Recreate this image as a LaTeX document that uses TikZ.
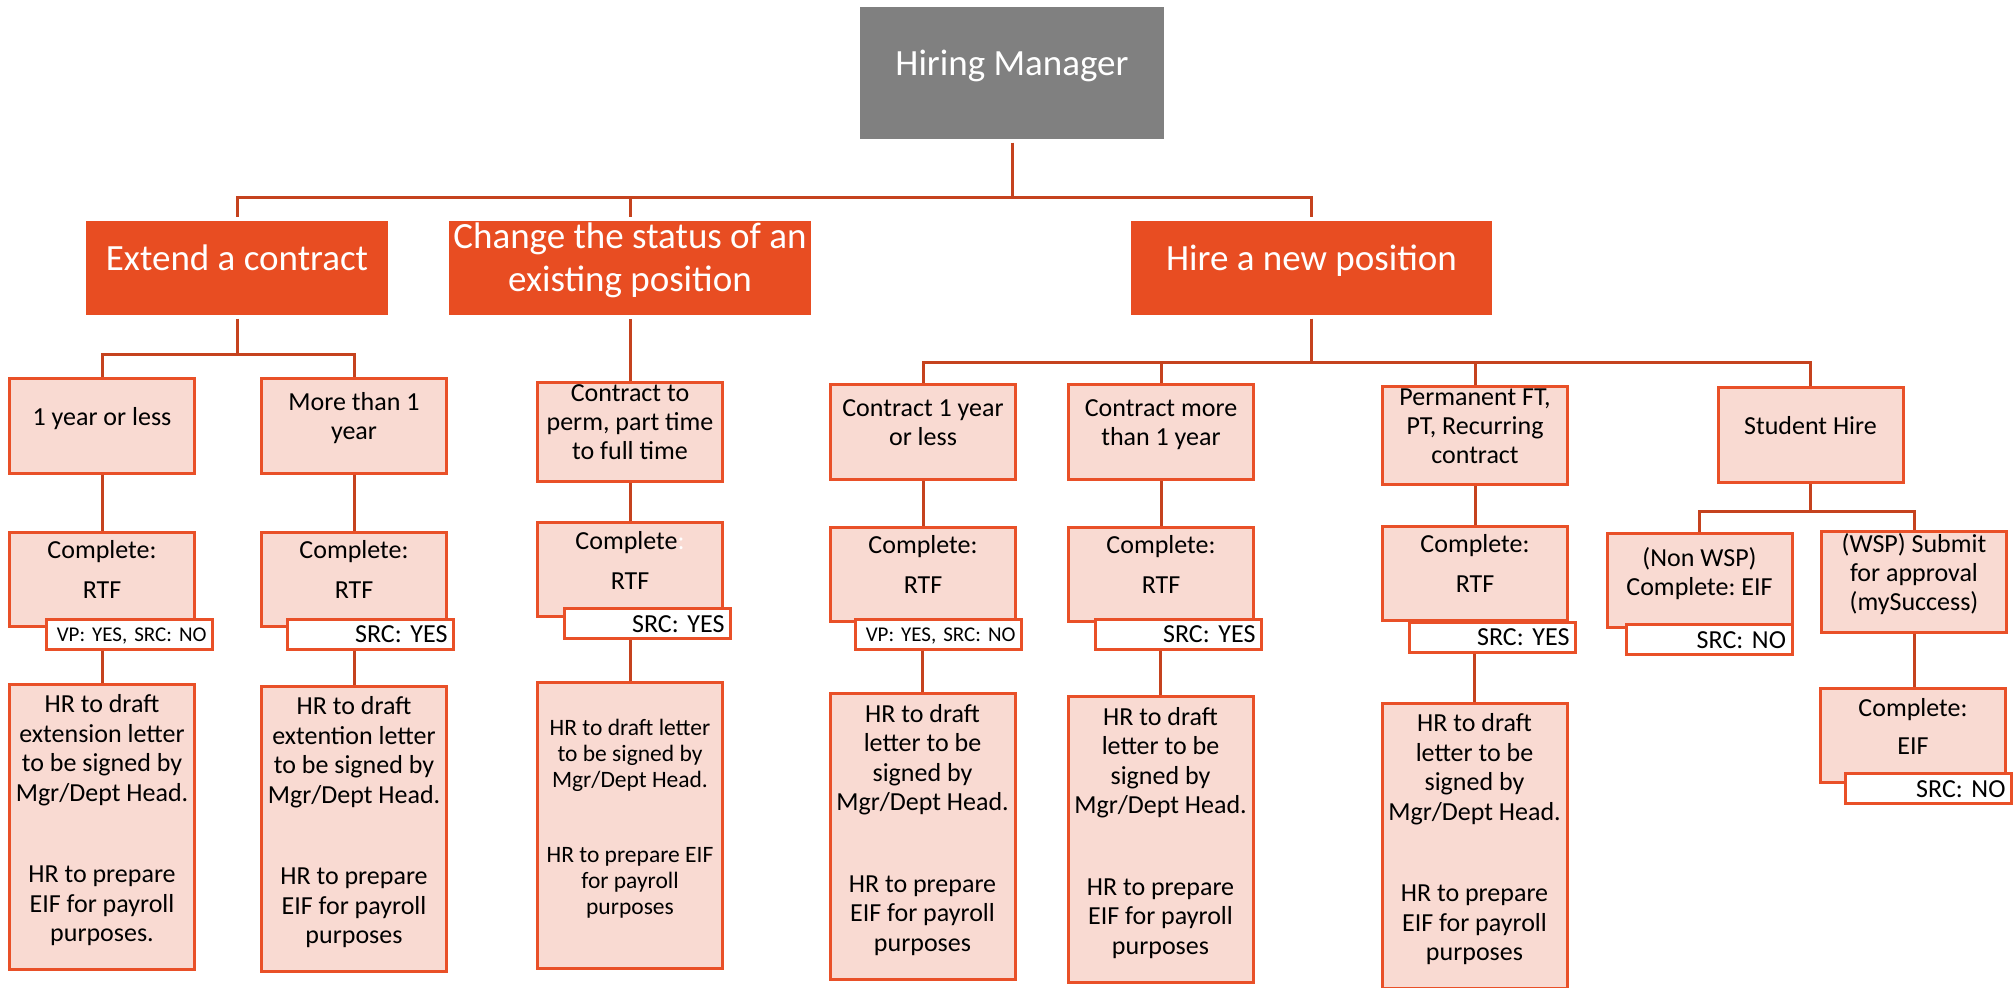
\documentclass[tikz,border=0pt]{standalone}
\usepackage{fontspec}
\setmainfont{Carlito}
\usepackage{xcolor}
\usepackage{tikz}
\usetikzlibrary{arrows}
\frenchspacing

\definecolor{hmgray}{RGB}{128,128,128}
\definecolor{mainorange}{RGB}{232,77,34}
\definecolor{boxpink}{RGB}{249,218,210}
\definecolor{boxedge}{RGB}{233,80,40}
\definecolor{linkred}{RGB}{197,66,30}

\begin{document}
\begin{tikzpicture}[x=0.5pt, y=-0.5pt, thick]
      \tikzstyle{link} = [draw=linkred, line width=1.5pt]
      \tikzstyle{hm box} = [rectangle, fill=hmgray, text=white, minimum width=152pt, minimum height=66pt,
         inner sep=1pt, align=center, text depth=10.4pt, font=\fontsize{18.5}{21.5}\selectfont]
      \tikzstyle{head box} = [rectangle, fill=mainorange, text=white, minimum height=47pt,
         inner sep=1pt, align=center, text depth=10.6pt, font=\fontsize{18.5}{21.5}\selectfont]
      \tikzstyle{sub box} = [rectangle, draw=boxedge, line width=1.5pt, fill=boxpink, minimum width=92.5pt,
         minimum height=47.5pt, inner sep=1pt, align=center, text depth=9.6pt, font=\fontsize{13}{14.5}\selectfont]
      \tikzstyle{note box} = [sub box, minimum height=142.5pt, text depth=9pt, font=\fontsize{13}{14.75}\selectfont]
      \tikzstyle{tag box} = [rectangle, draw=boxedge, line width=1.5pt, fill=white, minimum height=15pt,
         inner xsep=3pt, inner ysep=0pt, text width=77pt, align=right, text depth=0pt, anchor=north east,
         font=\fontsize{13}{14.5}\selectfont]
      \tikzstyle{small tag} = [tag box, font=\fontsize{10.5}{12}\selectfont]
      \useasboundingbox (0,0) rectangle (2015,988);

      %nodes
      \node[hm box]                            (hm)      at (1012,73)    {Hiring Manager};
      \node[head box, minimum width=151pt]     (extend)  at (237,268)    {Extend a contract};
      \node[head box, minimum width=181pt]     (change)  at (630,268)    {Change the status of an\\existing position};
      \node[head box, minimum width=180.5pt]   (hire)    at (1311.5,268) {Hire a new position};

      \node[sub box]   (oneyr)    at (102,426)      {1 year or less};
      \node[sub box]   (moreyr)   at (354,426)      {More than 1\\year};
      \node[sub box]   (perm)     at (630,432)      {Contract to\\perm, part time\\to full time};
      \node[sub box]   (con1)     at (923,432.5)    {Contract 1 year\\or less};
      \node[sub box]   (conmore)  at (1161,432.5)   {Contract more\\than 1 year};
      \node[sub box]   (permft)   at (1475,435.5)   {Permanent FT,\\PT, Recurring\\contract};
      \node[sub box]   (student)  at (1810.5,435.5) {Student Hire};

      \node[sub box, minimum height=47pt]   (rtfA)   at (102,579.5)  {Complete:\\[5.5pt]RTF};
      \node[sub box, minimum height=47pt]   (rtfB)   at (354,579.5)  {Complete:\\[5.5pt]RTF};
      \node[sub box, minimum height=47pt]   (rtfC)   at (630,570)    {Complete\textcolor{white}{:}\\[5.5pt]RTF};
      \node[sub box, minimum height=47pt]   (rtfD)   at (923,574.5)  {Complete:\\[5.5pt]RTF};
      \node[sub box, minimum height=47pt]   (rtfE)   at (1161,574.5) {Complete:\\[5.5pt]RTF};
      \node[sub box, minimum height=47pt]   (rtfF)   at (1475,573.5) {Complete:\\[5.5pt]RTF};
      \node[sub box, minimum height=47pt]   (nonwsp) at (1699.5,581) {(Non WSP)\\Complete: EIF};
      \node[sub box, minimum height=48pt]   (wsp)    at (1914,582)   {(WSP) Submit\\for approval\\(mySuccess)};
      \node[sub box, minimum height=47pt]   (eif)    at (1913,736)   {Complete:\\[4.5pt]EIF};

      %tags
      \node[small tag, xshift=9pt, yshift=5pt]     (tagA) at (rtfA.south east)   {VP: YES, SRC: NO};
      \node[tag box, xshift=3.5pt, yshift=5pt]     (tagB) at (rtfB.south east)   {SRC: YES};
      \node[tag box, xshift=4pt, yshift=5.5pt]     (tagC) at (rtfC.south east)   {SRC: YES};
      \node[small tag, xshift=3pt, yshift=2.5pt]   (tagD) at (rtfD.south east)   {VP: YES, SRC: NO};
      \node[tag box, xshift=4pt, yshift=2.5pt]     (tagE) at (rtfE.south east)   {SRC: YES};
      \node[tag box, xshift=4pt, yshift=0.5pt]     (tagF) at (rtfF.south east)   {SRC: YES};
      \node[tag box, xshift=0pt, yshift=3pt]       (tagG) at (nonwsp.south east) {SRC: NO};
      \node[tag box, xshift=3pt, yshift=6pt]       (tagH) at (eif.south east)    {SRC: NO};

      \node[note box]   (hrA) at (102,827)      {HR to draft\\extension letter\\to be signed by\\Mgr/Dept Head.\\[26pt]HR to prepare\\EIF for payroll\\purposes.};
      \node[note box]   (hrB) at (354,829)      {HR to draft\\extention letter\\to be signed by\\Mgr/Dept Head.\\[26pt]HR to prepare\\EIF for payroll\\purposes};
      \node[note box, font=\fontsize{11.75}{13}\selectfont, text depth=8.8pt]
                        (hrC) at (630,825.5)    {HR to draft letter\\to be signed by\\Mgr/Dept Head.\\[24.5pt]HR to prepare EIF\\for payroll\\purposes};
      \node[note box]   (hrD) at (922.5,836.5)  {HR to draft\\letter to be\\signed by\\Mgr/Dept Head.\\[26pt]HR to prepare\\EIF for payroll\\purposes};
      \node[note box]   (hrE) at (1160.5,839.5) {HR to draft\\letter to be\\signed by\\Mgr/Dept Head.\\[26pt]HR to prepare\\EIF for payroll\\purposes};
      \node[note box]   (hrF) at (1474.5,846)   {HR to draft\\letter to be\\signed by\\Mgr/Dept Head.\\[26pt]HR to prepare\\EIF for payroll\\purposes};

      %lines
      \draw[link, shorten <=1.5pt, shorten >=1.5pt] (hm.south) -- ++(0,58) -| (extend.north);
      \draw[link, shorten <=1.5pt, shorten >=1.5pt] (hm.south) -- ++(0,58) -| (change.north);
      \draw[link, shorten <=1.5pt, shorten >=1.5pt] (hm.south) -- ++(0,58) -| (hire.north);

      \draw[link, shorten <=1.5pt] (extend.south) -- ++(0,39) -| (oneyr.north);
      \draw[link, shorten <=1.5pt] (extend.south) -- ++(0,39) -| (moreyr.north);
      \draw[link, shorten <=1.5pt] (change.south) -- (perm.north);
      \draw[link, shorten <=1.5pt] (hire.south) -- ++(0,47) -| (con1.north);
      \draw[link, shorten <=1.5pt] (hire.south) -- ++(0,47) -| (conmore.north);
      \draw[link, shorten <=1.5pt] (hire.south) -- ++(0,47) -| (permft.north);
      \draw[link, shorten <=1.5pt] (hire.south) -- ++(0,47) -| (student.north);
      \draw[link] (student.south) -- ++(0,27) -| (nonwsp.north);
      \draw[link] (student.south) -- ++(0,27) -| (wsp.north);

      \draw[link] (oneyr.south)   -- (rtfA.north);
      \draw[link] (moreyr.south)  -- (rtfB.north);
      \draw[link] (perm.south)    -- (rtfC.north);
      \draw[link] (con1.south)    -- (rtfD.north);
      \draw[link] (conmore.south) -- (rtfE.north);
      \draw[link] (permft.south)  -- (rtfF.north);
      \draw[link] (wsp.south)     -- (wsp.south |- eif.north);

      \draw[link] (tagA.south -| hrA.north) -- (hrA.north);
      \draw[link] (tagB.south -| hrB.north) -- (hrB.north);
      \draw[link] (tagC.south -| hrC.north) -- (hrC.north);
      \draw[link] (tagD.south -| hrD.north) -- (hrD.north);
      \draw[link] (tagE.south -| hrE.north) -- (hrE.north);
      \draw[link] (tagF.south -| hrF.north) -- (hrF.north);
\end{tikzpicture}
\end{document}
